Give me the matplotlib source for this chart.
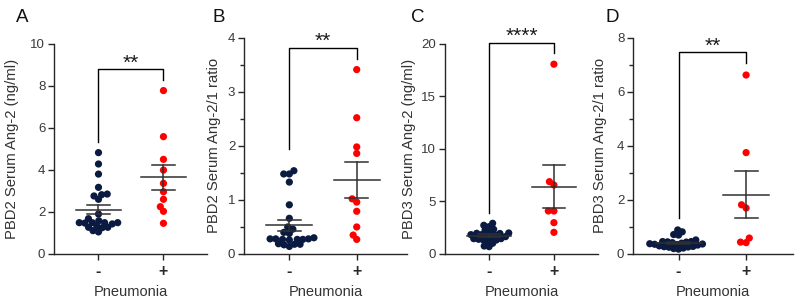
import numpy as np
import matplotlib
matplotlib.use("Agg")
import matplotlib.pyplot as plt
from matplotlib.ticker import MultipleLocator

plt.rcParams['font.family'] = ['Liberation Sans', 'DejaVu Sans']

# ---------------- data ----------------
groups = ["-", "+"]
xlabel = "Pneumonia"
panel_letters = ["A", "B", "C", "D"]
ylabels = ["PBD2 Serum Ang-2 (ng/ml)", "PBD2 Serum Ang-2/1 ratio",
           "PBD3 Serum Ang-2 (ng/ml)", "PBD3 Serum Ang-2/1 ratio"]

A_neg = [4.82, 4.28, 3.80, 3.17, 2.76, 2.60, 2.82, 2.85, 1.90, 1.68, 1.49, 1.49,
         1.47, 1.49, 1.58, 1.49, 1.43, 1.33, 1.27, 1.25, 1.27, 1.05, 1.11]
A_pos = [7.77, 5.58, 4.50, 3.99, 3.36, 2.96, 2.60, 2.25, 2.03, 1.46]

B_neg = [1.54, 1.48, 1.48, 1.33, 0.91, 0.66, 0.50, 0.46, 0.40, 0.38, 0.30, 0.28,
         0.27, 0.27, 0.26, 0.28, 0.27, 0.28, 0.19, 0.18, 0.14, 0.18, 0.17]
B_pos = [3.41, 2.52, 1.98, 1.86, 0.96, 1.02, 0.79, 0.50, 0.27, 0.35]

C_neg = [2.92, 2.73, 2.60, 2.35, 2.28, 2.09, 2.00, 1.97, 1.95, 1.84, 1.84, 1.80,
         1.75, 1.65, 1.60, 1.46, 1.46, 1.40, 1.33, 1.33, 1.21, 1.02, 0.76, 0.70]
C_pos = [18.05, 6.56, 6.88, 4.09, 4.09, 2.98, 2.06]

D_neg = [0.89, 0.82, 0.72, 0.70, 0.52, 0.46, 0.46, 0.45, 0.44, 0.42, 0.40, 0.38,
         0.37, 0.36, 0.35, 0.33, 0.30, 0.28, 0.27, 0.26, 0.25, 0.22, 0.20, 0.18]
D_pos = [6.62, 3.75, 1.82, 1.70, 0.42, 0.59, 0.44]

ymax = [10, 4, 20, 8]
ymajor = [2, 1, 5, 2]
yminor = [None, 0.5, None, 1]

# significance brackets: top, left drop end, right drop end, label
sig_top = [8.78, 3.81, 20.1, 7.46]
sig_left = [5.34, 1.95, 3.9, 1.32]
sig_right = [8.27, 3.60, 19.1, 7.05]
sig_text = ["**", "**", "****", "**"]

data = [(A_neg, A_pos), (B_neg, B_pos), (C_neg, C_pos), (D_neg, D_pos)]

# ---------------- layout ----------------
W, H = 798, 304
fig = plt.figure(figsize=(W / 100, H / 100), dpi=100)

ax_px = [  # left, right, top (px), xlim
    (54.3, 207.0, 43.7, (-0.68, 1.67)),
    (244.3, 407.0, 37.7, (-0.668, 1.746)),
    (445.0, 598.0, 43.7, (-0.68, 1.68)),
    (633.3, 792.7, 37.7, (-0.67, 1.69)),
]
bottom_px = 254.0
label_x = [-0.231, -0.145, -0.19, -0.165]
letter_x = [22, 219, 418, 612]
swarm_d = [5.6, 5.6, 4.9, 4.9]   # dot spacing in px per panel

col_neg = "#0b1a40"
col_pos = "#ff0000"
txt_col = "#262626"


def swarm(ypix, d):
    n = len(ypix)
    xs = np.zeros(n)
    order = np.argsort(ypix)
    placed = []
    for i in order:
        y = ypix[i]
        cands = [0.0]
        for j in placed:
            dy = y - ypix[j]
            if abs(dy) < d:
                dx = np.sqrt(d * d - dy * dy)
                cands += [xs[j] + dx, xs[j] - dx]
        cands = sorted(cands, key=lambda c: (abs(c), c))
        for c in cands:
            ok = True
            for j in placed:
                if (c - xs[j]) ** 2 + (y - ypix[j]) ** 2 < (d - 1e-6) ** 2:
                    ok = False
                    break
            if ok:
                xs[i] = c
                break
        placed.append(i)
    return xs


for k in range(4):
    l, r, t, xl = ax_px[k]
    ax = fig.add_axes([l / W, 1 - bottom_px / H, (r - l) / W, (bottom_px - t) / H])
    ax.set_xlim(*xl)
    ax.set_ylim(0, ymax[k])
    for s in ["top", "right"]:
        ax.spines[s].set_visible(False)
    for s in ["left", "bottom"]:
        ax.spines[s].set_color(txt_col)
        ax.spines[s].set_linewidth(1.0)

    ppu_x = (r - l) / (xl[1] - xl[0])
    ppu_y = (bottom_px - t) / ymax[k]

    for g, (vals, col) in enumerate(zip(data[k], [col_neg, col_pos])):
        v = np.array(vals, dtype=float)
        offs = swarm(v * ppu_y, swarm_d[k] if g == 0 else 5.6) / ppu_x
        ax.scatter(g + offs, v, s=27, color=col, edgecolors='none', zorder=3,
                   clip_on=False)
        m = v.mean()
        sem = v.std(ddof=1) / np.sqrt(len(v))
        lc = "#303030"
        ax.plot([g - 0.34, g + 0.34], [m, m], color=lc, lw=1.1, zorder=4)
        ax.plot([g, g], [m - sem, m + sem], color=lc, lw=1.1, zorder=4)
        ax.plot([g - 0.17, g + 0.17], [m + sem, m + sem], color=lc, lw=1.1, zorder=4)
        ax.plot([g - 0.17, g + 0.17], [m - sem, m - sem], color=lc, lw=1.1, zorder=4)

    # significance bracket
    ax.plot([0, 0, 1, 1], [sig_left[k], sig_top[k], sig_top[k], sig_right[k]],
            color="black", lw=1.0, clip_on=False, zorder=5)
    ax.annotate(sig_text[k], xy=(0.5, sig_top[k]), xytext=(0, 0.5),
                textcoords='offset points', ha='center', va='baseline',
                fontsize=15, color="#1a1a1a", annotation_clip=False)

    ax.yaxis.set_major_locator(MultipleLocator(ymajor[k]))
    if yminor[k]:
        ax.yaxis.set_minor_locator(MultipleLocator(yminor[k]))
        ax.tick_params(axis='y', which='minor', length=3, width=1.0, color=txt_col)
    ax.tick_params(axis='y', which='major', length=4.5, width=1.0, color=txt_col,
                   labelsize=9.5, labelcolor="#3a3a3a", pad=2)
    ax.set_xticks([0, 1])
    ax.set_xticklabels(groups, fontsize=11.5, fontweight='bold', color="#2a2a2a")
    ax.tick_params(axis='x', length=4.5, width=1.0, color=txt_col, pad=3)

    ax.set_ylabel(ylabels[k], fontsize=10.7, color="#333333")
    ax.yaxis.set_label_coords(label_x[k], 0.5)
    ax.set_xlabel(xlabel, fontsize=10.5, color="#333333", labelpad=4)

    fig.text(letter_x[k] / W, 1 - 17 / H, panel_letters[k], ha='center', va='center',
             fontsize=13.5, color="#111111")

fig.savefig("out.png", dpi=100)
